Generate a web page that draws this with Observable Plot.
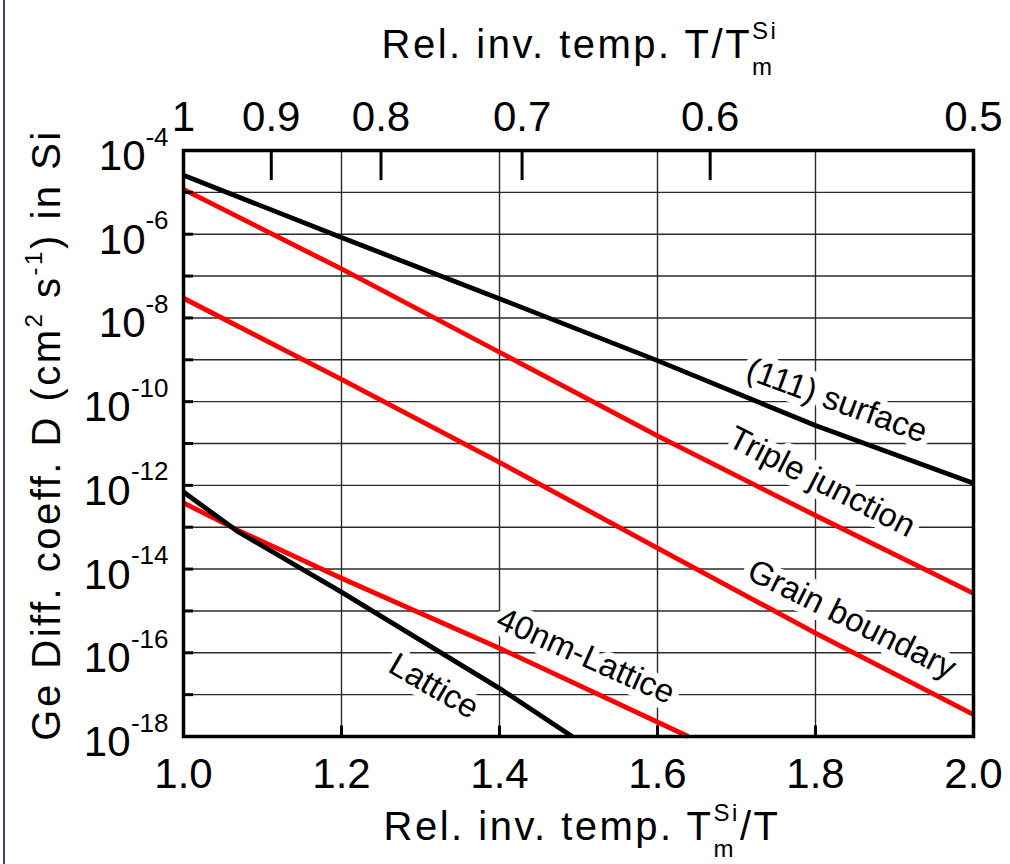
<!DOCTYPE html>
<html>
<head>
<meta charset="utf-8">
<script src="https://cdn.jsdelivr.net/npm/d3@7"></script>
<script src="https://cdn.jsdelivr.net/npm/@observablehq/plot@0.6"></script>
<style>
  html, body { margin: 0; padding: 0; background: #fff; }
  #wrap { position: relative; width: 1010px; height: 864px; overflow: hidden; }
  #edge { position: absolute; left: 3px; top: 0; width: 2px; height: 864px; background: #3b3fa3; }
  #wrap svg { position: absolute; left: 0; top: 0; }
</style>
</head>
<body>
<div id="wrap"><div id="edge"></div></div>
<script>
// ---- data (log10 of D, cm^2/s) ----
const surfaceX   = [1.0, 1.2, 1.4, 1.6, 1.8, 2.0];
const surfaceLog = [-4.59, -6.08, -7.54, -9.02, -10.57, -11.95];

const tripleX    = [1.0, 1.2, 1.4, 1.6, 1.8, 2.0];
const tripleLog  = [-4.93, -6.83, -8.82, -10.82, -12.72, -14.58];

const grainX     = [1.0, 1.2, 1.4, 1.6, 1.8, 2.0];
const grainLog   = [-7.53, -9.47, -11.45, -13.5, -15.53, -17.48];

const nanoX      = [1.0, 1.07, 1.2, 1.4, 1.639];
const nanoLog    = [-12.42, -13.08, -14.22, -15.89, -18];

const latticeX   = [1.0, 1.07, 1.2, 1.4, 1.492];
const latticeLog = [-12.16, -13.12, -14.55, -16.85, -18];

const seriesNames  = ["(111) surface", "Triple junction", "Grain boundary", "40nm-Lattice", "Lattice"];
const seriesColors = ["#000000", "#ff0000", "#ff0000", "#ff0000", "#000000"];

// curve label anchors (data coordinates) and angles
const labelX     = [1.827, 1.808, 1.846, 1.509, 1.317];
const labelLog   = [-9.98, -11.92, -15.2, -16.08, -16.8];
const labelAngle = [20, 27, 26.5, 24, 30];

// axes
const xTicks      = [1.0, 1.2, 1.4, 1.6, 1.8, 2.0];
const xTickLabels = ["1.0", "1.2", "1.4", "1.6", "1.8", "2.0"];
const xGrid       = [1.2, 1.4, 1.6, 1.8];
const topTicks       = [1, 0.9, 0.8, 0.7, 0.6, 0.5];
const topTickLabels  = ["1", "0.9", "0.8", "0.7", "0.6", "0.5"];
const topInnerTicks  = [0.9, 0.8, 0.7, 0.6];
const yDecades    = [-18, -17, -16, -15, -14, -13, -12, -11, -10, -9, -8, -7, -6, -5, -4];
const yLabelExps  = [-4, -6, -8, -10, -12, -14, -16, -18];

// ---- build table ----
const seriesX = [surfaceX, tripleX, grainX, nanoX, latticeX];
const seriesL = [surfaceLog, tripleLog, grainLog, nanoLog, latticeLog];
const rows = [];
seriesNames.forEach((name, i) => {
  seriesX[i].forEach((x, j) => rows.push({series: name, color: seriesColors[i], x, D: Math.pow(10, seriesL[i][j])}));
});
const labels = seriesNames.map((name, i) => ({text: name, x: labelX[i], D: Math.pow(10, labelLog[i]), angle: labelAngle[i]}));
const gridRows = yDecades.filter(e => e > -18 && e < -4);
const shortExp = yLabelExps.filter(e => String(e).length <= 2);
const longExp  = yLabelExps.filter(e => String(e).length > 2);

const font = "'Liberation Sans', Arial, Helvetica, sans-serif";

const chart = Plot.plot({
  width: 1010,
  height: 864,
  marginLeft: 183,
  marginRight: 37,
  marginTop: 150,
  marginBottom: 128,
  style: {fontFamily: font, background: "transparent", color: "#000", overflow: "visible"},
  x: {domain: [1, 2], axis: null},
  y: {type: "log", domain: [1e-18, 1e-4], axis: null},
  marks: [
    // grid
    Plot.ruleY(gridRows, {y: e => Math.pow(10, e), stroke: "#2a2a2a", strokeWidth: 1.4}),
    Plot.ruleX(xGrid, {x: d => d, stroke: "#2a2a2a", strokeWidth: 1.4}),
    // curve labels with white halo (breaks the grid)
    Plot.text(labels, {x: "x", y: "D", text: "text", rotate: "angle", fontSize: 33, fill: "#000",
      stroke: "white", strokeWidth: 14, textAnchor: "middle", lineAnchor: "middle"}),
    // curves
    Plot.line(rows, {x: "x", y: "D", z: "series", stroke: "color", strokeWidth: 4.8, strokeLinejoin: "round", strokeLinecap: "butt"}),
    // inner ticks: left
    Plot.ruleY(yDecades, {y: e => Math.pow(10, e), x1: 1, x2: 1.0127, stroke: "#000", strokeWidth: 3}),
    // bottom inward ticks
    Plot.ruleX(xGrid, {x: d => d, y1: 1e-18, y2: Math.pow(10, -17.75), stroke: "#000", strokeWidth: 3}),
    // top inward ticks (T/Tm scale)
    Plot.ruleX(topInnerTicks, {x: v => 1 / v, y1: 1e-4, y2: Math.pow(10, -4.72), stroke: "#000", strokeWidth: 3}),
    Plot.frame({stroke: "#000", strokeWidth: 3.5}),
    // bottom tick labels
    Plot.text(xTicks, {x: d => d, frameAnchor: "bottom", text: (d, i) => xTickLabels[i], fontSize: 42,
      textAnchor: "middle", lineAnchor: "bottom", dy: 51, fill: "#000", style: "letter-spacing:1.5px"}),
    // top tick labels
    Plot.text(topTicks, {x: v => 1 / v, frameAnchor: "top", text: (d, i) => topTickLabels[i], fontSize: 42,
      textAnchor: "middle", lineAnchor: "bottom", dy: -20, fill: "#000", style: "letter-spacing:1.5px"}),
    // y tick labels "10" + exponent
    Plot.text(shortExp, {y: e => Math.pow(10, e), frameAnchor: "left", text: () => "10", fontSize: 42,
      textAnchor: "end", lineAnchor: "middle", dx: -38, dy: 6, fill: "#000"}),
    Plot.text(longExp, {y: e => Math.pow(10, e), frameAnchor: "left", text: () => "10", fontSize: 42,
      textAnchor: "end", lineAnchor: "middle", dx: -53, dy: 6, fill: "#000"}),
    Plot.text(yLabelExps, {y: e => Math.pow(10, e), frameAnchor: "left", text: e => String(e), fontSize: 26,
      textAnchor: "end", lineAnchor: "bottom", dx: -15, dy: -5, fill: "#000"})
  ]
});

document.getElementById("wrap").appendChild(chart);

// ---- axis titles with super/subscripts (real text) ----
const svg = d3.select(chart);
function stackedTitle(before, sup, sub, after, cx, baseline) {
  const t = svg.append("text")
    .attr("x", cx).attr("y", baseline)
    .attr("text-anchor", "middle")
    .style("font-family", font).style("font-size", "40px").style("letter-spacing", "2.5px")
    .attr("fill", "#000");
  t.append("tspan").text(before);
  const s1 = t.append("tspan").text(sup).style("font-size", "24px").attr("dy", -19);
  const w1 = s1.node().getComputedTextLength();
  const s2 = t.append("tspan").text(sub).style("font-size", "24px").attr("dx", -w1).attr("dy", 36);
  const w2 = s2.node().getComputedTextLength();
  if (after) {
    t.append("tspan").text(after).attr("dx", Math.max(0, w1 - w2)).attr("dy", -17);
  }
  return t;
}
stackedTitle("Rel. inv. temp. T/T", "Si", "m", "", 580, 58);
stackedTitle("Rel. inv. temp. T", "Si", "m", "/T", 582, 840);

const yt = svg.append("text")
  .attr("transform", "translate(60,435) rotate(-90)")
  .attr("text-anchor", "middle")
  .style("font-family", font).style("font-size", "40px").style("letter-spacing", "2.5px")
  .attr("fill", "#000");
yt.append("tspan").text("Ge Diff. coeff. D (cm");
yt.append("tspan").text("2").style("font-size", "24px").attr("dy", -18);
yt.append("tspan").text(" s").attr("dy", 18);
yt.append("tspan").text("-1").style("font-size", "24px").attr("dy", -18);
yt.append("tspan").text(") in Si").attr("dy", 18);
</script>
</body>
</html>
